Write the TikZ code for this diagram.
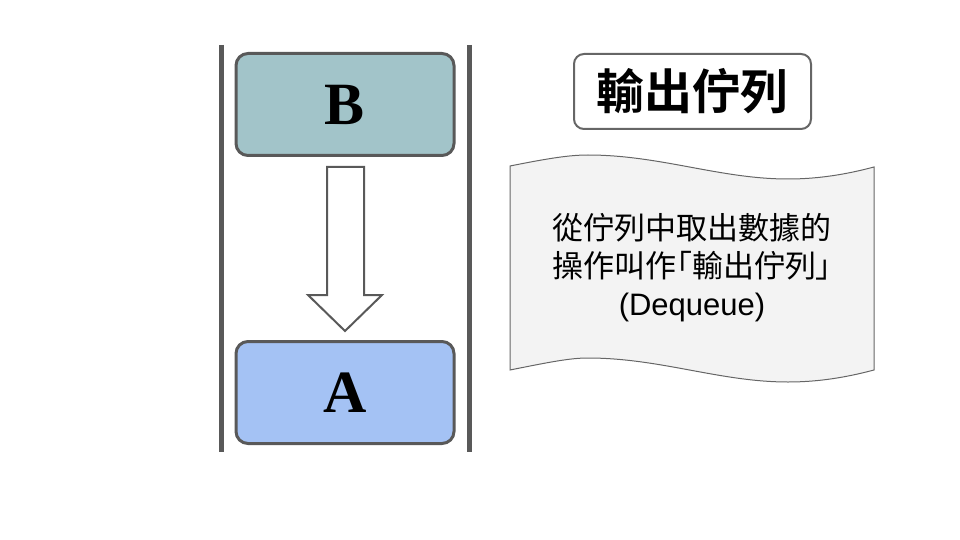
\documentclass[tikz,border=0pt]{standalone}
\usepackage{fontspec}
\setmainfont{Liberation Serif}
\setsansfont{Liberation Sans}
\newfontfamily\cjk[RawFeature=+palt]{Noto Sans CJK TC}
\newfontfamily\cjkbold{Noto Sans CJK TC Bold}
\usetikzlibrary{positioning}
\begin{document}
\begin{tikzpicture}[x=1pt, y=-1pt,
  wall/.style={line width=5pt, draw=wallgrey},
  stackbox/.style={draw=wallgrey, line width=3pt, rounded corners=12pt, minimum width=218pt, minimum height=102pt, font=\bfseries\fontsize{60}{60}\selectfont},
  titlebox/.style={draw=edgegrey, line width=2pt, rounded corners=10pt, minimum width=237pt, minimum height=75pt, font=\cjkbold\fontsize{48}{48}\selectfont},
  notetext/.style={align=center, font=\sffamily\fontsize{31}{38}\selectfont}]
\definecolor{wallgrey}{HTML}{595959}
\definecolor{edgegrey}{HTML}{666666}
\definecolor{colB}{HTML}{A2C4C9}
\definecolor{colA}{HTML}{A4C2F4}
\definecolor{paper}{HTML}{F3F3F3}
\useasboundingbox (0,0) rectangle (960,540);
% queue walls
\draw[wall] (221,45) -- (221,452);
\draw[wall] (469,45) -- (469,452);
% queue items
\node[stackbox, fill=colB] (B) at (345,104.5) {B};
\node[stackbox, fill=colA] (A) at (345,392.5) {A};
% block arrow
\draw[draw=wallgrey, line width=2pt, fill=white, line join=miter]
  (327,167) -- (364,167) -- (364,295) -- (382,295) -- (345,331) -- (308,295) -- (327,295) -- cycle;
% title
\node[titlebox] (title) at (692.5,91.5) {輸出佇列};
% note
\draw[draw=edgegrey, line width=1pt, fill=paper]
  (510,166) .. controls (550,158) and (570,155) .. (588,155)
  .. controls (660,155) and (720,179) .. (788,179)
  .. controls (825,179) and (855,172) .. (874,167)
  -- (874,370)
  .. controls (855,375) and (825,382) .. (788,382)
  .. controls (720,382) and (660,358) .. (588,358)
  .. controls (570,358) and (550,362) .. (510,370) -- cycle;
\node[notetext] (note) at (692,268) {{\cjk 從佇列中取出數據的}\\{\cjk 操作叫作「輸出佇列」}\\(Dequeue)};
\end{tikzpicture}
\end{document}
